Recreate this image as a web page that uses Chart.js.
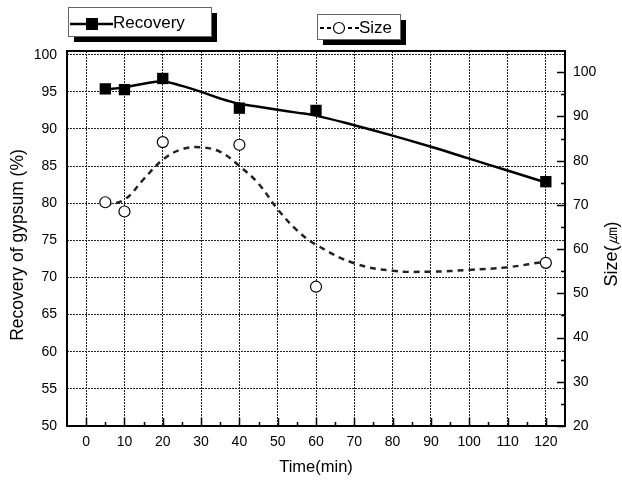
<!DOCTYPE html>
<html>
<head>
<meta charset="utf-8">
<script src="https://cdn.jsdelivr.net/npm/chart.js@4/dist/chart.umd.min.js"></script>
<style>
  html, body { margin: 0; padding: 0; background: #fff; }
  #wrap { width: 622px; height: 484px; }
</style>
</head>
<body>
<div id="wrap"><canvas id="grafico" width="622" height="484"></canvas></div>
<script>
// measured points
const tempo = [5, 10, 20, 40, 60, 120];
const recuperacao = [95.4, 95.3, 96.8, 92.8, 92.5, 82.9];
const tamanho = [70.6, 68.5, 84.2, 83.6, 51.5, 56.9];

// fitted curves
const tempoAjuste = [5, 10, 15, 20, 25, 30, 35, 40, 45, 50, 55, 60, 70, 80, 90, 100, 110, 120];
const recuperacaoAjuste = [95.3, 95.6, 96.1, 96.4, 95.8, 95.0, 94.1, 93.4, 93.0, 92.6, 92.2, 91.8, 90.5, 89.1, 87.6, 86.0, 84.4, 82.8];
const tamanhoAjuste = [70.0, 71.2, 75.8, 80.2, 82.6, 83.0, 82.0, 78.8, 74.8, 69.0, 64.3, 61.0, 56.8, 55.1, 54.9, 55.3, 55.9, 57.2];

// tick labels
const ticksX = [0, 10, 20, 30, 40, 50, 60, 70, 80, 90, 100, 110, 120];
const ticksEsq = [50, 55, 60, 65, 70, 75, 80, 85, 90, 95, 100];
const ticksDir = [20, 30, 40, 50, 60, 70, 80, 90, 100];

const pares = (xs, ys) => xs.map((x, i) => ({ x: x, y: ys[i] }));
const fonte = 'Arial, "Liberation Sans", sans-serif';

// frame + inward tick marks
const moldura = {
  id: 'moldura',
  beforeDatasetsDraw(chart) {
    const { ctx, chartArea: a, scales } = chart;
    ctx.save();
    ctx.strokeStyle = '#000';
    ctx.lineWidth = 1.5;
    ctx.beginPath();
    for (let v = 0; v <= 120; v += 5) {
      const px = Math.round(scales.x.getPixelForValue(v)) + 0.5;
      const len = v % 10 === 0 ? 8 : 4;
      ctx.moveTo(px, a.bottom);
      ctx.lineTo(px, a.bottom - len);
    }
    for (let v = 20; v <= 100; v += 5) {
      const py = Math.round(scales.y2.getPixelForValue(v)) + 0.5;
      const len = v % 10 === 0 ? 8 : 4;
      ctx.moveTo(a.right, py);
      ctx.lineTo(a.right - len, py);
    }
    ctx.stroke();
    ctx.lineWidth = 2;
    ctx.strokeRect(a.left, a.top, a.right - a.left, a.bottom - a.top);
    ctx.restore();
  }
};

// rotated y titles, placed like the original
const titulosY = {
  id: 'titulosY',
  afterDraw(chart) {
    const ctx = chart.ctx;
    ctx.save();
    ctx.fillStyle = '#000';
    ctx.textAlign = 'center';
    ctx.textBaseline = 'middle';
    ctx.font = '17.5px ' + fonte;
    ctx.translate(18, 245);
    ctx.rotate(-Math.PI / 2);
    ctx.fillText('Recovery of gypsum (%)', 0, 0);
    ctx.restore();

    ctx.save();
    ctx.fillStyle = '#000';
    ctx.textAlign = 'center';
    ctx.textBaseline = 'middle';
    ctx.font = '18px ' + fonte;
    ctx.translate(612, 254);
    ctx.rotate(-Math.PI / 2);
    ctx.fillText('Size(㎛)', 0, 0);
    ctx.restore();
  }
};

// the two boxed legends with drop shadows
const legendas = {
  id: 'legendas',
  afterDraw(chart) {
    const ctx = chart.ctx;
    const caixa = (x, y, w, h) => {
      ctx.fillStyle = '#000';
      ctx.fillRect(x + 6, y + 6, w, h);
      ctx.fillStyle = '#fff';
      ctx.fillRect(x, y, w, h);
      ctx.strokeStyle = '#666';
      ctx.lineWidth = 1;
      ctx.strokeRect(x + 0.5, y + 0.5, w, h);
    };
    ctx.save();
    caixa(68, 7, 143, 29);
    ctx.strokeStyle = '#000';
    ctx.lineWidth = 2.5;
    ctx.beginPath();
    ctx.moveTo(70, 24);
    ctx.lineTo(113, 24);
    ctx.stroke();
    ctx.fillStyle = '#000';
    ctx.fillRect(86, 18, 12, 12);
    ctx.font = '17px ' + fonte;
    ctx.textBaseline = 'middle';
    ctx.fillText('Recovery', 113, 23);

    caixa(317, 14, 83, 25);
    ctx.strokeStyle = '#000';
    ctx.lineWidth = 2;
    ctx.setLineDash([4, 3]);
    ctx.beginPath();
    ctx.moveTo(320, 28);
    ctx.lineTo(359, 28);
    ctx.stroke();
    ctx.setLineDash([]);
    ctx.fillStyle = '#fff';
    ctx.lineWidth = 1.2;
    ctx.beginPath();
    ctx.arc(339, 28, 5.5, 0, Math.PI * 2);
    ctx.fill();
    ctx.stroke();
    ctx.fillStyle = '#000';
    ctx.fillText('Size', 359, 28);
    ctx.restore();
  }
};

const grafico = new Chart(document.getElementById('grafico'), {
  type: 'scatter',
  data: {
    datasets: [
      {
        label: 'Recovery',
        data: pares(tempo, recuperacao),
        yAxisID: 'y',
        showLine: false,
        pointStyle: 'rect',
        pointRadius: 8,
        backgroundColor: '#000',
        borderColor: '#000',
        borderWidth: 0
      },
      {
        label: 'Size',
        data: pares(tempo, tamanho),
        yAxisID: 'y2',
        showLine: false,
        pointStyle: 'circle',
        pointRadius: 5.5,
        backgroundColor: '#fff',
        borderColor: '#000',
        borderWidth: 1.2
      },
      {
        label: 'Recovery fit',
        data: pares(tempoAjuste, recuperacaoAjuste),
        yAxisID: 'y',
        showLine: true,
        pointRadius: 0,
        borderColor: '#000',
        borderWidth: 2.5,
        tension: 0.4
      },
      {
        label: 'Size fit',
        data: pares(tempoAjuste, tamanhoAjuste),
        yAxisID: 'y2',
        showLine: true,
        pointRadius: 0,
        borderColor: '#222',
        borderWidth: 2.5,
        borderDash: [6, 5],
        tension: 0.4
      }
    ]
  },
  options: {
    responsive: false,
    animation: false,
    layout: { padding: { top: 51, left: 0, right: 0, bottom: 0 } },
    plugins: { legend: { display: false }, tooltip: { enabled: false } },
    scales: {
      x: {
        type: 'linear',
        min: -5,
        max: 125,
        afterBuildTicks: (s) => { s.ticks = ticksX.map(v => ({ value: v })); },
        afterFit: (s) => { s.height = 58; },
        grid: { color: '#222', lineWidth: 1, drawTicks: false },
        border: { display: false, dash: [2, 1] },
        ticks: { color: '#000', padding: 8, maxRotation: 0, font: { family: fonte, size: 14 } },
        title: { display: true, text: 'Time(min)', color: '#000', padding: { top: 0, bottom: 7 }, font: { family: fonte, size: 16.5 } }
      },
      y: {
        position: 'left',
        min: 50,
        max: 100.5,
        afterBuildTicks: (s) => { s.ticks = ticksEsq.map(v => ({ value: v })); },
        afterFit: (s) => { s.width = 67; },
        grid: { color: '#222', lineWidth: 1, drawTicks: false },
        border: { display: false, dash: [2, 1] },
        ticks: { color: '#000', padding: 10, font: { family: fonte, size: 14 } }
      },
      y2: {
        position: 'right',
        min: 20,
        max: 104.8,
        afterBuildTicks: (s) => { s.ticks = ticksDir.map(v => ({ value: v })); },
        afterFit: (s) => { s.width = 57; },
        grid: { display: false, drawTicks: false },
        border: { display: false },
        ticks: { color: '#000', padding: 8, font: { family: fonte, size: 14 } }
      }
    }
  },
  plugins: [moldura, titulosY, legendas]
});
</script>
</body>
</html>
